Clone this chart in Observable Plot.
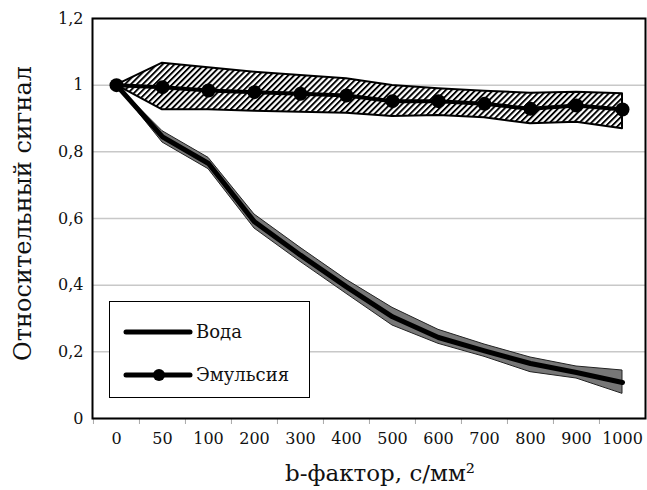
<!DOCTYPE html>
<html><head><meta charset="utf-8">
<script src="https://cdn.jsdelivr.net/npm/d3@7"></script>
<script src="https://cdn.jsdelivr.net/npm/@observablehq/plot@0.6"></script>
<style>body{margin:0;background:#fff}</style>
</head><body><div id="chart"></div>
<script>
const bValues = ["0","50","100","200","300","400","500","600","700","800","900","1000"];
const waterMean = [1.0,0.845,0.765,0.59,0.49,0.395,0.305,0.243,0.203,0.165,0.138,0.108];
const waterLow  = [1.0,0.828,0.748,0.57,0.47,0.374,0.279,0.224,0.185,0.139,0.12,0.074];
const waterHigh = [1.0,0.862,0.782,0.612,0.512,0.416,0.332,0.266,0.222,0.183,0.156,0.144];
const emulsionMean = [1.0,0.994,0.984,0.979,0.974,0.969,0.952,0.952,0.944,0.929,0.939,0.927];
const emulsionLow  = [1.0,0.926,0.926,0.922,0.919,0.916,0.906,0.909,0.902,0.884,0.889,0.869];
const emulsionHigh = [1.0,1.066,1.052,1.039,1.029,1.019,0.999,0.989,0.982,0.976,0.979,0.974];
const yTicks = [0,0.2,0.4,0.6,0.8,1,1.2];
const seriesNames = ["Вода","Эмульсия"];
const xTitle = "b-фактор, с/мм²";
const yTitle = "Относительный сигнал";

const water = bValues.map((b,i)=>({b, m: waterMean[i], lo: waterLow[i], hi: waterHigh[i]}));
const emul = bValues.map((b,i)=>({b, m: emulsionMean[i], lo: emulsionLow[i], hi: emulsionHigh[i]}));

const W = 647, H = 490, ML = 92, MR = 2, MT = 18, MB = 72;
const step = (W - ML - MR) / bValues.length;
const fmt = d => String(d).replace(".", ",");

const chart = Plot.plot({
  width: W, height: H,
  marginLeft: ML, marginRight: MR, marginTop: MT, marginBottom: MB,
  style: {fontFamily: "DejaVu Serif", background: "#fff", color: "#111"},
  x: {type: "point", domain: bValues, padding: 0.5, align: 0.5},
  y: {domain: [0, 1.2]},
  marks: [
    Plot.gridY(yTicks, {stroke: "#c8c8c8", strokeOpacity: 1, strokeWidth: 1.5}),
    Plot.axisY(yTicks, {tickSize: 0, tickPadding: 9, tickFormat: fmt, fontSize: 16, label: null}),
    Plot.axisX(bValues, {tickSize: 6, tickFormat: () => "", dx: -step/2, stroke: "#aaa", label: null}),
    Plot.axisX(bValues, {tickSize: 0, tickPadding: 14, fontSize: 16, label: null}),
    Plot.text([yTitle], {frameAnchor: "left", textAnchor: "middle", rotate: -90, dx: -69, dy: -5, fontSize: 24}),
    Plot.text([xTitle], {frameAnchor: "bottom", dy: 62, dx: 11, fontSize: 23}),
    Plot.areaY(water, {x: "b", y1: "lo", y2: "hi", fill: "#777", stroke: "#222", strokeWidth: 1}),
    Plot.line(water, {x: "b", y: "m", stroke: "#000", strokeWidth: 5}),
    Plot.areaY(emul, {x: "b", y1: "lo", y2: "hi", fill: "url(#hatch)", stroke: "#000", strokeWidth: 2}),
    Plot.line(emul, {x: "b", y: "m", stroke: "#000", strokeWidth: 4}),
    Plot.dot(emul, {x: "b", y: "m", r: 7, fill: "#000"}),
    Plot.frame({stroke: "#000", strokeWidth: 2})
  ]
});

const svg = d3.select(chart);
const defs = svg.insert("defs", ":first-child");
const pat = defs.append("pattern").attr("id", "hatch").attr("patternUnits", "userSpaceOnUse")
  .attr("width", 4.2).attr("height", 4.2).attr("patternTransform", "rotate(45)");
pat.append("rect").attr("width", 4.2).attr("height", 4.2).attr("fill", "#fff");
pat.append("rect").attr("width", 1.9).attr("height", 4.2).attr("fill", "#000");

// legend
const lg = svg.append("g").attr("text-anchor", "start");
lg.append("rect").attr("x", 109.5).attr("y", 301.5).attr("width", 200).attr("height", 96)
  .attr("fill", "#fff").attr("stroke", "#000").attr("stroke-width", 1);
const rows = [332, 375];
seriesNames.forEach((name, i) => {
  lg.append("line").attr("x1", 126).attr("x2", 190).attr("y1", rows[i]).attr("y2", rows[i])
    .attr("stroke", "#000").attr("stroke-width", 5).attr("stroke-linecap", "round");
  if (i === 1) lg.append("circle").attr("cx", 159).attr("cy", rows[i]).attr("r", 6).attr("fill", "#000");
  lg.append("text").attr("x", 196).attr("y", rows[i] + 6).attr("font-size", 18)
    .attr("text-anchor", "start").attr("fill", "#111").text(name);
});

document.getElementById("chart").appendChild(chart);
</script>
</body></html>
